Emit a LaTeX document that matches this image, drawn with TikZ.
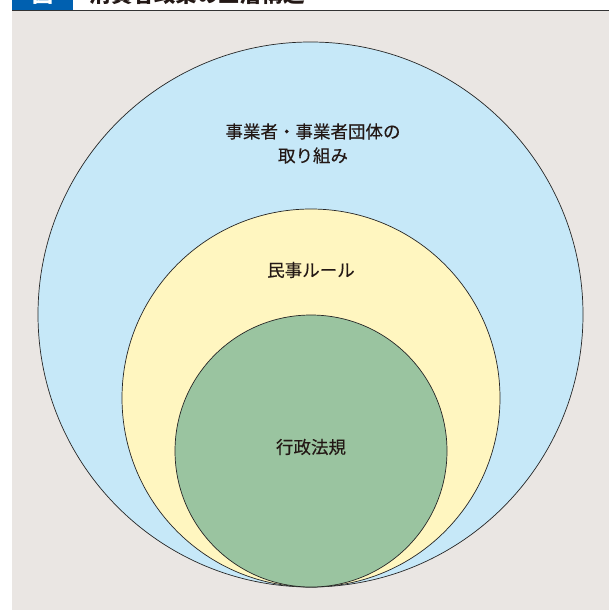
\documentclass[tikz,border=0pt]{standalone}
\usepackage{fontspec}
\newfontfamily\jp{Noto Sans CJK JP}
\newfontfamily\jpm[FakeBold=0.35]{Noto Sans CJK JP}
\definecolor{bg}{HTML}{EAE6E3}
\definecolor{outerc}{HTML}{C6E8F8}
\definecolor{midc}{HTML}{FFF6C0}
\definecolor{innerc}{HTML}{9AC4A0}
\definecolor{titleblue}{HTML}{0060B0}
\definecolor{txt}{HTML}{231815}
\tikzset{
  ring/.style={draw=black!85, line width=0.7pt},
  lbl/.style={font=\jpm\fontsize{17.5}{24}\selectfont, text=txt, align=center},
}
\begin{document}
\begin{tikzpicture}[x=1pt,y=1pt]
\useasboundingbox (0,0) rectangle (609,-610);
\begin{scope}
\clip (0,0) rectangle (609,-610);
\fill[bg] (12,-11.5) rectangle (609,-610);
\fill[titleblue] (12,0) rectangle (73,-10);
\draw[line width=1pt, black!80] (12,-11) -- (609,-11);
\node[font=\jp\bfseries\fontsize{21}{24}\selectfont, text=white] (fig) at (42.5,5.5) {図};
\node[font=\jp\bfseries\fontsize{21.5}{24}\selectfont, text=txt, anchor=west] (title) at (86,5.5) {消費者政策の三層構造};
\end{scope}
\node[ring, circle, fill=outerc, minimum size=545pt, inner sep=0pt] (outer) at (310.5,-314.5) {};
\node[ring, circle, fill=midc, minimum size=378pt, inner sep=0pt] (mid) at (311,-398) {};
\node[ring, circle, fill=innerc, minimum size=272pt, inner sep=0pt] (inner) at (311,-451) {};
\node[lbl] (t1) at (313,-143.5) {事業者・事業者団体の\\取り組み};
\node[lbl] (t2) at (311,-270) {民事ルール};
\node[lbl] (t3) at (311,-447) {行政法規};
\end{tikzpicture}
\end{document}
